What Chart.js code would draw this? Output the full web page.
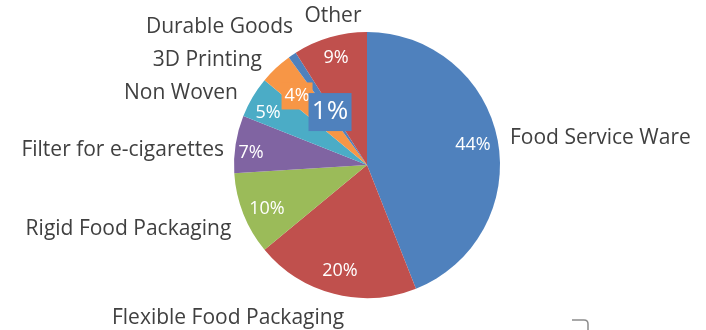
<!DOCTYPE html>
<html>
<head>
<meta charset="utf-8">
<script src="https://cdn.jsdelivr.net/npm/chart.js@4/dist/chart.umd.min.js"></script>
<style>
  html, body { margin: 0; padding: 0; background: #fff; }
  #wrap { width: 706px; height: 330px; position: relative; }
</style>
</head>
<body>
<div id="wrap"><canvas id="chart"></canvas></div>
<script>
const categories = ['Food Service Ware', 'Flexible Food Packaging', 'Rigid Food Packaging',
  'Filter for e-cigarettes', 'Non Woven', '3D Printing', 'Durable Goods', 'Other']
const shares = [44, 20, 10, 7, 5, 4, 1, 9]
const pctLabels = ['44%', '20%', '10%', '7%', '5%', '4%', '1%', '9%']

const COLORS = ['#4F81BD', '#C0504D', '#9BBB59', '#8064A2', '#4BACC6', '#F79646', '#4F81BD', '#C0504D']
const TEXT = '#404040'
const FONT = '"Open Sans", sans-serif'

// label placement, as fractions of the pie radius from its centre
const pctPos = [[0.797, -0.15], [-0.203, 0.797], [-0.752, 0.331], [-0.872, -0.09],
  [-0.744, -0.391], [-0.526, -0.519], [-0.278, -0.398], [-0.233, -0.805]]
const catPos = [[1.075, -0.203, 'left'], [-1.045, 1.15, 'center'], [-1.02, 0.48, 'right'],
  [-1.075, -0.113, 'right'], [-0.97, -0.541, 'right'], [-0.79, -0.79, 'right'],
  [-0.556, -1.038, 'right'], [-0.256, -1.12, 'center']]
// slices whose value label sits on a filled box
const boxed = { 5: { w: 31, h: 27, size: 18 }, 6: { w: 43, h: 38, size: 26 } }

const labelPlugin = {
  id: 'pieLabels',
  afterDatasetsDraw(chart) {
    const { ctx } = chart
    const arcs = chart.getDatasetMeta(0).data
    const cx = arcs[0].x, cy = arcs[0].y, r = arcs[0].outerRadius
    ctx.save()
    ctx.textBaseline = 'middle'
    arcs.forEach((arc, i) => {
      const px = cx + pctPos[i][0] * r
      const py = cy + pctPos[i][1] * r
      let size = 18
      if (boxed[i]) {
        const b = boxed[i]
        size = b.size
        ctx.fillStyle = COLORS[i]
        ctx.fillRect(px - b.w / 2, py - b.h / 2, b.w, b.h)
      }
      ctx.fillStyle = '#fff'
      ctx.textAlign = 'center'
      ctx.font = `${size}px ${FONT}`
      ctx.fillText(pctLabels[i], px, py)

      const [dx, dy, align] = catPos[i]
      ctx.fillStyle = TEXT
      ctx.textAlign = align
      ctx.font = `21px ${FONT}`
      ctx.fillText(categories[i], cx + dx * r, cy + dy * r)
    })
    // small corner mark near the bottom edge
    ctx.strokeStyle = '#8c8c8c'
    ctx.lineWidth = 1.5
    ctx.beginPath()
    ctx.moveTo(572, 320)
    ctx.lineTo(584, 320)
    ctx.quadraticCurveTo(588, 320, 588, 324)
    ctx.lineTo(588, 330)
    ctx.stroke()
    ctx.restore()
  },
}

new Chart(document.getElementById('chart'), {
  type: 'pie',
  data: {
    labels: categories,
    datasets: [{
      data: shares,
      backgroundColor: COLORS,
      borderWidth: 0,
    }],
  },
  options: {
    responsive: true,
    maintainAspectRatio: false,
    animation: false,
    layout: { padding: { left: 234, right: 206, top: 32, bottom: 32 } },
    plugins: {
      legend: { display: false },
      tooltip: { enabled: false },
    },
  },
  plugins: [labelPlugin],
})
</script>
</body>
</html>
